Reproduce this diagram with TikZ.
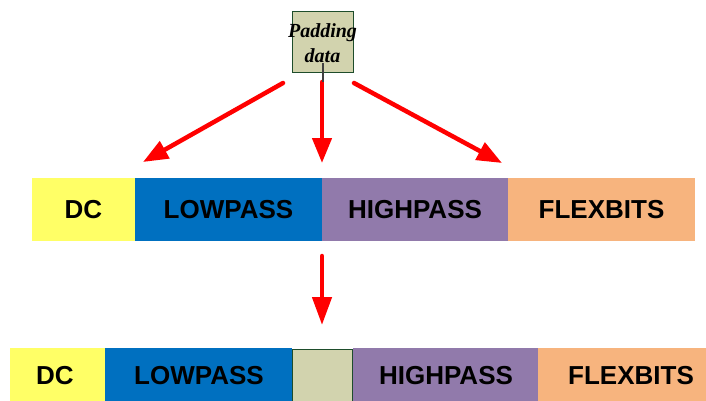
\documentclass[tikz,border=0pt]{standalone}
\usepackage{fontspec}
\setmainfont{Liberation Sans}
\newfontfamily\padfont{Liberation Serif}
\usetikzlibrary{arrows.meta}

\definecolor{dccol}{RGB}{255,255,102}
\definecolor{lowcol}{RGB}{0,112,192}
\definecolor{highcol}{RGB}{145,122,171}
\definecolor{flexcol}{RGB}{247,180,126}
\definecolor{padcol}{RGB}{210,211,174}
\definecolor{padedge}{RGB}{30,77,43}
\definecolor{arrowred}{RGB}{255,0,0}

\tikzset{
  band/.style={anchor=north west, inner sep=0pt, outer sep=0pt, draw=none,
    minimum height=63pt},
  bandlabel/.style={inner sep=0pt, font=\fontsize{26}{30}\selectfont\bfseries},
  padbox/.style={fill=padcol, draw=padedge, line width=1pt, inner sep=0pt,
    minimum width=61pt, minimum height=61pt},
  padtext/.style={anchor=base, inner sep=0pt,
    font=\padfont\fontsize{20}{25}\selectfont\bfseries\itshape},
  redarrow/.style={draw=arrowred, line width=4.5pt, line cap=round,
    -{Triangle[length=25pt, width=19pt]}},
  stem/.style={draw=black!75, line width=1.3pt}
}

\begin{document}
\begin{tikzpicture}[x=1pt, y=-1pt]
  \useasboundingbox (0,0) rectangle (706,400);
  \clip (0,0) rectangle (706,400);

  % padding data block on top
  \node[padbox] (pad) at (322.5,41.5) {};
  \node[padtext] (padA) at (322.5,37) {Padding};
  \node[padtext] (padB) at (322.5,62) {data};

  % first bitstream layout
  \node[band, fill=dccol,   minimum width=103pt] (dc1)   at (32,178)  {};
  \node[band, fill=lowcol,  minimum width=187pt] (low1)  at (135,178) {};
  \node[band, fill=highcol, minimum width=186pt] (high1) at (322,178) {};
  \node[band, fill=flexcol, minimum width=187pt] (flex1) at (508,178) {};
  \node[bandlabel] (dc1t)   at (dc1.center)   {DC};
  \node[bandlabel] (low1t)  at (low1.center)  {LOWPASS};
  \node[bandlabel] (high1t) at (high1.center) {HIGHPASS};
  \node[bandlabel] (flex1t) at (flex1.center) {FLEXBITS};

  % second bitstream layout with the padding inserted
  \node[band, fill=dccol,   minimum width=95pt]  (dc2)   at (10,348)  {};
  \node[band, fill=lowcol,  minimum width=187pt] (low2)  at (105,348) {};
  \node[band, fill=padcol, draw=padedge, line width=1pt,
        minimum width=60pt, minimum height=70pt]  (pad2)  at (292.5,349) {};
  \node[band, fill=highcol, minimum width=185pt] (high2) at (353,348) {};
  \node[band, fill=flexcol, minimum width=187pt] (flex2) at (538,348) {};
  \node[bandlabel] (dc2t)   at (55,376)  {DC};
  \node[bandlabel] (low2t)  at (199,376) {LOWPASS};
  \node[bandlabel] (high2t) at (446,376) {HIGHPASS};
  \node[bandlabel] (flex2t) at (631,376) {FLEXBITS};

  % arrow anchor points
  \coordinate (sL) at (283,83);
  \coordinate (sM) at (322,82);
  \coordinate (sR) at (354,83);
  \coordinate (tL) at (143,162);
  \coordinate (tM) at (322,163);
  \coordinate (tR) at (502,163);
  \coordinate (s2) at (322,256);
  \coordinate (t2) at (322,325);
  \coordinate (stemtop) at (323,63);
  \coordinate (stembot) at (323,82);

  % arrows
  \draw[redarrow] (sL) -- (tL);
  \draw[redarrow] (sM) -- (tM);
  \draw[redarrow] (sR) -- (tR);
  \draw[redarrow, -{Triangle[length=28pt, width=19pt]}] (s2) -- (t2);
  \draw[stem] (stemtop) -- (stembot);
\end{tikzpicture}
\end{document}
